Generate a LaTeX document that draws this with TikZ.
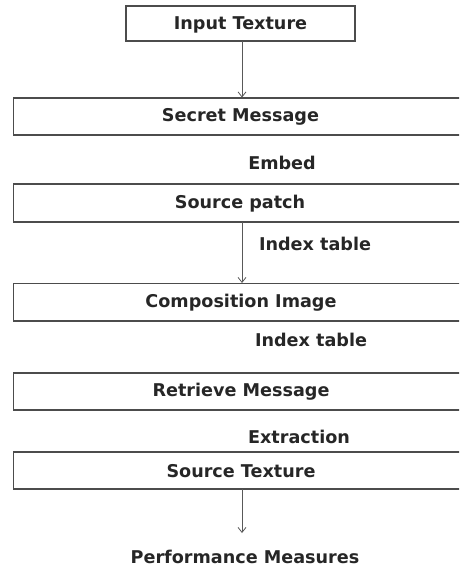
\documentclass[tikz,border=0pt]{standalone}
\usepackage{fontspec}
\setmainfont{DejaVu Sans}
\usetikzlibrary{arrows.meta}
\begin{document}
\begin{tikzpicture}[x=1pt,y=-1pt,
  every node/.style={font=\bfseries\fontsize{17.6}{20}\selectfont, text=black!85, inner sep=0pt},
  stagebox/.style={draw=black!70, line width=1.3pt},
  flow/.style={draw=black!65, line width=0.8pt, -{Straight Barb[length=5pt,width=8pt]}}]
  \useasboundingbox (0,0) rectangle (459,569);
  \begin{scope}
    \clip (0,0) rectangle (459,569);
    % stage boxes (the wide ones run past the right edge)
    \draw[stagebox] (126,6) rectangle (355,41);
    \draw[stagebox] (13.5,98) rectangle (470,135);
    \draw[stagebox] (13.5,184) rectangle (470,222);
    \draw[stagebox] (13.5,283.5) rectangle (470,321);
    \draw[stagebox] (13.5,373) rectangle (470,410);
    \draw[stagebox] (13.5,452) rectangle (470,489);
  \end{scope}
  % stage titles
  \node (input) at (240.5,25) {Input Texture};
  \node (secret) at (240.5,117) {Secret Message};
  \node (patch) at (240,203.5) {Source patch};
  \node (comp) at (241,302.5) {Composition Image};
  \node (retr) at (241,392) {Retrieve Message};
  \node (src) at (241,471) {Source Texture};
  \node (perf) at (245,556.5) {Performance Measures};
  % side labels
  \node (embed) at (282,162.5) {Embed};
  \node (idx1) at (315,243.5) {Index table};
  \node (idx2) at (311,339.5) {Index table};
  \node (extr) at (299,436.5) {Extraction};
  % connectors
  \coordinate (a1s) at (242,41);
  \coordinate (a1e) at (242,97.5);
  \coordinate (a2s) at (242,222);
  \coordinate (a2e) at (242,283);
  \coordinate (a3s) at (242,489);
  \coordinate (a3e) at (242,533);
  \draw[flow] (a1s) -- (a1e);
  \draw[flow] (a2s) -- (a2e);
  \draw[flow] (a3s) -- (a3e);
\end{tikzpicture}
\end{document}
